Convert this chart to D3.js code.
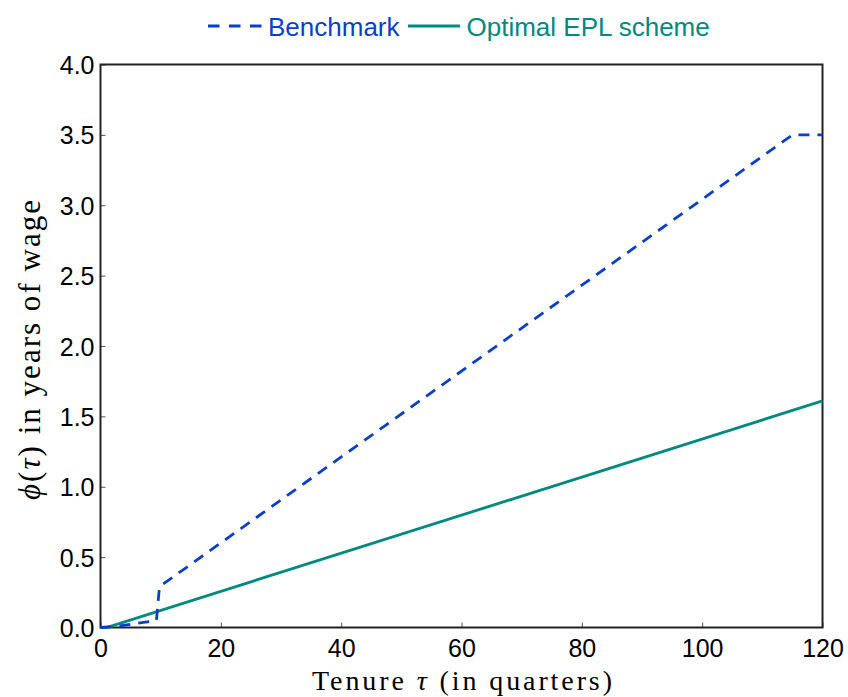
<!DOCTYPE html>
<html><head><meta charset="utf-8">
<script src="https://cdn.jsdelivr.net/npm/d3@7"></script>
<style>body{margin:0;background:#fff}</style>
</head><body>
<script>
const benchmarkTenure = [0, 3, 9.3, 9.8, 115, 120];
const benchmarkValue  = [0, 0.01, 0.05, 0.29, 3.5, 3.5];
const optimalTenure = [0, 1, 120];
const optimalValue  = [0, 0, 1.61];
const xTicks = [0, 20, 40, 60, 80, 100, 120];
const yTicks = [0, 0.5, 1.0, 1.5, 2.0, 2.5, 3.0, 3.5, 4.0];
const seriesNames = ["Benchmark", "Optimal EPL scheme"];
const colors = ["#0a3fcc", "#00897f"];

const W = 848, H = 697;
const m = {left: 100.5, right: W - 822.5, top: 64.5, bottom: H - 627.5};
const svg = d3.select("body").append("svg").attr("width", W).attr("height", H);
const x = d3.scaleLinear().domain([0, 120]).range([m.left, W - m.right]);
const y = d3.scaleLinear().domain([0, 4]).range([H - m.bottom, m.top]);

// ticks
const gx = svg.append("g").attr("transform", `translate(0,${H - m.bottom})`)
  .call(d3.axisBottom(x).tickValues(xTicks).tickFormat(d3.format("d")).tickSizeInner(-5).tickSizeOuter(0).tickPadding(12));
const gy = svg.append("g").attr("transform", `translate(${m.left},0)`)
  .call(d3.axisLeft(y).tickValues(yTicks).tickFormat(d3.format(".1f")).tickSizeInner(-5).tickSizeOuter(0).tickPadding(6));
[gx, gy].forEach(g => {
  g.select(".domain").remove();
  g.selectAll(".tick line").attr("stroke", "#555").attr("stroke-width", 1);
  g.selectAll(".tick text").attr("font-family", "Liberation Sans, Arial, sans-serif").attr("font-size", 25).attr("fill", "#000");
});
gy.selectAll(".tick text").attr("dy", "0.36em");

// frame
svg.append("rect").attr("x", m.left).attr("y", m.top)
  .attr("width", W - m.left - m.right).attr("height", H - m.top - m.bottom)
  .attr("fill", "none").attr("stroke", "#222").attr("stroke-width", 2);

const line = d3.line().x(d => x(d[0])).y(d => y(d[1]));
const bData = benchmarkTenure.map((t, i) => [t, benchmarkValue[i]]);
const oData = optimalTenure.map((t, i) => [t, optimalValue[i]]);

svg.append("path").datum(oData).attr("d", line).attr("fill", "none")
  .attr("stroke", colors[1]).attr("stroke-width", 2.8);
svg.append("path").datum(bData).attr("d", line).attr("fill", "none")
  .attr("stroke", colors[0]).attr("stroke-width", 2.8).attr("stroke-dasharray", "11,8");

// legend
const lg = svg.append("g").attr("font-family", "Liberation Sans, Arial, sans-serif").attr("font-size", 26);
lg.append("line").attr("x1", 208).attr("x2", 262).attr("y1", 26).attr("y2", 26)
  .attr("stroke", colors[0]).attr("stroke-width", 2.8).attr("stroke-dasharray", "11.5,9.5");
lg.append("text").attr("x", 268).attr("y", 35.5).attr("fill", colors[0]).text(seriesNames[0]);
lg.append("line").attr("x1", 408).attr("x2", 460).attr("y1", 26).attr("y2", 26)
  .attr("stroke", colors[1]).attr("stroke-width", 2.8);
lg.append("text").attr("x", 466.5).attr("y", 35.5).attr("fill", colors[1]).text(seriesNames[1]);

// axis titles
const xt = svg.append("text").attr("x", 312).attr("y", 690)
  .attr("textLength", 300).attr("lengthAdjust", "spacing")
  .attr("font-family", "Liberation Serif, Times New Roman, serif").attr("font-size", 28);
xt.append("tspan").text("Tenure ");
xt.append("tspan").attr("font-style", "italic").text("τ");
xt.append("tspan").text(" (in quarters)");

const yt = svg.append("text").attr("transform", `translate(40,500) rotate(-90)`)
  .attr("textLength", 300).attr("lengthAdjust", "spacing")
  .attr("font-family", "Liberation Serif, Times New Roman, serif").attr("font-size", 31);
yt.append("tspan").attr("font-style", "italic").text("ϕ");
yt.append("tspan").text("(");
yt.append("tspan").attr("font-style", "italic").text("τ");
yt.append("tspan").text(") in years of wage");
</script>
</body></html>
